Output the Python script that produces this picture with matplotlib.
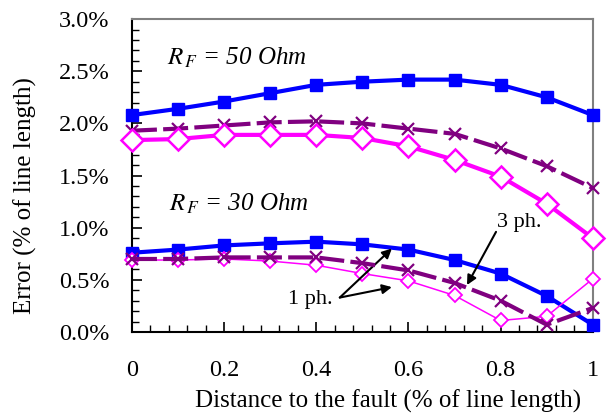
import matplotlib.pyplot as plt
from matplotlib.ticker import MultipleLocator, FuncFormatter

# distance to the fault (fraction of line length)
dist = [0.0, 0.1, 0.2, 0.3, 0.4, 0.5, 0.6, 0.7, 0.8, 0.9, 1.0]

# error (% of line length), R_F = 50 Ohm
err50_blue = [2.08, 2.14, 2.21, 2.29, 2.37, 2.40, 2.42, 2.42, 2.37, 2.25, 2.08]
err50_purple = [1.93, 1.95, 1.98, 2.01, 2.02, 2.00, 1.95, 1.90, 1.76, 1.59, 1.38]
err50_magenta = [1.84, 1.85, 1.89, 1.89, 1.89, 1.86, 1.78, 1.65, 1.49, 1.23, 0.90]

# error (% of line length), R_F = 30 Ohm
err30_blue = [0.76, 0.79, 0.83, 0.85, 0.866, 0.84, 0.79, 0.69, 0.56, 0.345, 0.07]
err30_purple = [0.70, 0.70, 0.715, 0.715, 0.715, 0.66, 0.59, 0.47, 0.30, 0.07, 0.23]
err30_magenta = [0.69, 0.69, 0.70, 0.68, 0.64, 0.56, 0.49, 0.35, 0.11, 0.15, 0.51]

BLUE = "#0000FF"
PURPLE = "#800080"
MAGENTA = "#FF00FF"

plt.rcParams["font.family"] = ["Liberation Serif", "DejaVu Serif"]
plt.rcParams["mathtext.fontset"] = "stix"

fig = plt.figure(figsize=(6.08, 4.16), dpi=100)
ax = fig.add_axes([0.217, 0.202, 0.758, 0.752])

# --- R_F = 50 Ohm ---
ax.plot(dist, err50_blue, color=BLUE, lw=3, marker="s", ms=8.5,
        mfc=BLUE, mec=BLUE, zorder=3, clip_on=False)
ax.plot(dist, err50_purple, color=PURPLE, lw=3, dashes=(6, 1.5),
        marker="x", ms=8, mew=1.6, mec=PURPLE, zorder=3, clip_on=False)
ax.plot(dist, err50_magenta, color=MAGENTA, lw=3, marker="D", ms=11,
        mfc="white", mec=MAGENTA, mew=1.8, zorder=3, clip_on=False)

# --- R_F = 30 Ohm ---
ax.plot(dist, err30_blue, color=BLUE, lw=3, marker="s", ms=8.5,
        mfc=BLUE, mec=BLUE, zorder=3, clip_on=False)
ax.plot(dist, err30_purple, color=PURPLE, lw=3, dashes=(6, 1.5),
        marker="x", ms=8, mew=1.6, mec=PURPLE, zorder=4, clip_on=False)
ax.plot(dist, err30_magenta, color=MAGENTA, lw=1.1, marker="D", ms=7,
        mfc="white", mec=MAGENTA, mew=1.3, zorder=3, clip_on=False)

# --- annotations ---
ax.text(0.075, 2.63, r"$R_{\,F}$ = 50 Ohm", fontsize=18, style="italic",
        va="center", ha="left")
ax.text(0.08, 1.23, r"$R_{\,F}$ = 30 Ohm", fontsize=18, style="italic",
        va="center", ha="left")

arrow_style = dict(arrowstyle="-|>", color="black", lw=1.5,
                   mutation_scale=14, shrinkA=0, shrinkB=0)
ax.text(0.84, 1.05, "3 ph.", fontsize=16, ha="center", va="center")
ax.annotate("", xy=(0.727, 0.45), xytext=(0.79, 0.96),
            arrowprops=arrow_style)
ax.text(0.387, 0.31, "1 ph.", fontsize=16, ha="center", va="center")
for head in [(0.564, 0.80), (0.564, 0.43)]:
    ax.annotate("", xy=head, xytext=(0.451, 0.33), arrowprops=arrow_style)

# --- axes formatting ---
ax.set_xlim(0, 1)
ax.set_ylim(0, 3.0)
ax.xaxis.set_major_locator(MultipleLocator(0.2))
ax.xaxis.set_minor_locator(MultipleLocator(0.04))
ax.yaxis.set_major_locator(MultipleLocator(0.5))
ax.yaxis.set_minor_locator(MultipleLocator(0.1))
ax.xaxis.set_major_formatter(FuncFormatter(lambda v, p: f"{v:g}"))
ax.yaxis.set_major_formatter(FuncFormatter(lambda v, p: f"{v:.1f}%"))

ax.tick_params(which="both", direction="in", top=False, right=False,
               labelsize=17.5)
ax.tick_params(which="major", length=7, width=1.2)
ax.tick_params(which="minor", length=5, width=1)
ax.tick_params(axis="x", pad=20)
ax.tick_params(axis="y", pad=16)

for s in ["left", "bottom"]:
    ax.spines[s].set_color("black")
    ax.spines[s].set_linewidth(1.5)
for s in ["top", "right"]:
    ax.spines[s].set_color("#808080")
    ax.spines[s].set_linewidth(1.5)

ax.set_xlabel("Distance to the fault (% of line length)", fontsize=18)
ax.xaxis.set_label_coords(0.555, -0.185)
ax.set_ylabel("Error (% of line length)", fontsize=18)
ax.yaxis.set_label_coords(-0.205, 0.435)

fig.savefig("out.png", dpi=100)
